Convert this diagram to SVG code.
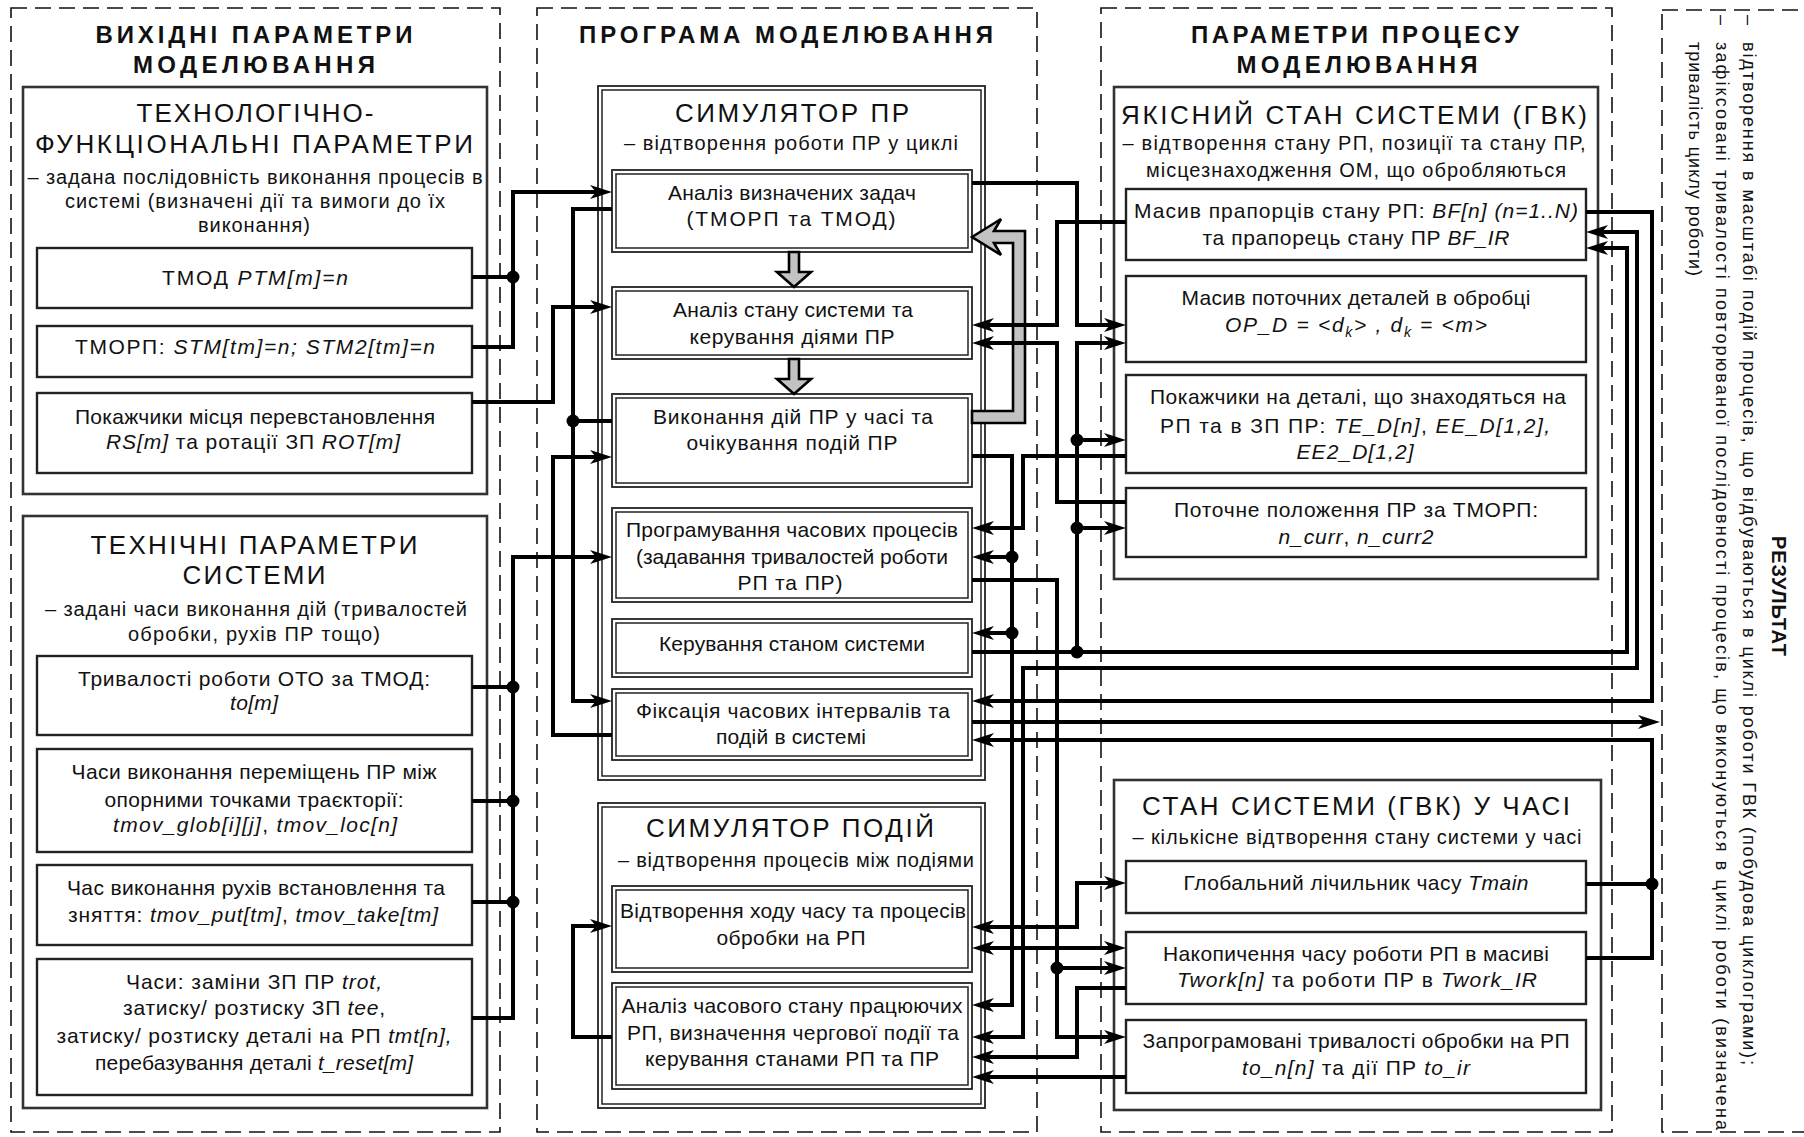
<svg xmlns="http://www.w3.org/2000/svg" width="1804" height="1137" viewBox="0 0 1804 1137">
<style>
.t{font-family:"Liberation Sans",Arial,sans-serif;fill:#111;text-anchor:middle;}
.h{font-size:24px;font-weight:bold;}
.bt{font-size:26px;}
.s{font-size:20px;}
.b{font-size:21px;}
.i{font-style:italic;}
.sub{font-size:14px;font-style:italic;}
.dash{fill:none;stroke:#111;stroke-width:1.6;stroke-dasharray:16 8;}
.bx{fill:#fff;stroke:#222;stroke-width:2.4;}
.ob{fill:#fff;stroke:#333;stroke-width:2.6;}
.d1{fill:#fff;stroke:#222;stroke-width:1.8;}
.d2{fill:none;stroke:#222;stroke-width:1.5;}
.c{fill:none;stroke:#000;stroke-width:4;stroke-linejoin:miter;}
.a{marker-end:url(#ar);}
.a2{marker-start:url(#ar);marker-end:url(#ar);}
.dot{fill:#000;}
.g{fill:#c2c2c2;stroke:#000;stroke-width:2.6;stroke-linejoin:miter;}
.r{font-family:"Liberation Sans",Arial,sans-serif;fill:#111;font-size:18px;}
</style>
<defs>
<marker id="ar" markerUnits="userSpaceOnUse" markerWidth="24" markerHeight="18" viewBox="0 0 24 18" refX="14" refY="9" orient="auto-start-reverse">
<path d="M0,2 L22,9 L0,16 L6,9 Z" fill="#000"/>
</marker>
</defs>
<rect width="1804" height="1137" fill="#fff"/>

<!-- panels -->
<g id="panel-left">
<rect class="dash" x="11" y="8" width="489" height="1124"/>
<text class="t h" x="254" y="43" textLength="317">ВИХІДНІ ПАРАМЕТРИ</text>
<text class="t h" x="254" y="73" textLength="242">МОДЕЛЮВАННЯ</text>
</g>
<g id="panel-mid">
<rect class="dash" x="537" y="8" width="500" height="1124"/>
<text class="t h" x="786" y="43" textLength="414">ПРОГРАМА МОДЕЛЮВАННЯ</text>
</g>
<g id="panel-right">
<rect class="dash" x="1101" y="8" width="511" height="1124"/>
<text class="t h" x="1355" y="43" textLength="328">ПАРАМЕТРИ ПРОЦЕСУ</text>
<text class="t h" x="1357" y="73" textLength="241">МОДЕЛЮВАННЯ</text>
</g>
<g id="panel-result">
<rect class="dash" x="1662" y="10" width="220" height="1122"/>
<g transform="translate(1772,536) rotate(90)"><text class="r" style="font-size:20px;font-weight:bold" x="0" y="0" textLength="120">РЕЗУЛЬТАТ</text></g>
<g transform="translate(1743,15) rotate(90)"><text class="r" x="0" y="0">–</text></g>
<g transform="translate(1743,42) rotate(90)"><text class="r" x="0" y="0" textLength="1023">відтворення в масштабі подій процесів, що відбуваються в циклі роботи ГВК (побудова циклограми);</text></g>
<g transform="translate(1716,15) rotate(90)"><text class="r" x="0" y="0">–</text></g>
<g transform="translate(1716,42) rotate(90)"><text class="r" x="0" y="0" textLength="1088">зафіксовані тривалості повторюваної послідовності процесів, що виконуються в циклі роботи (визначена</text></g>
<g transform="translate(1689,42) rotate(90)"><text class="r" x="0" y="0" textLength="234">тривалість циклу роботи)</text></g>
</g>

<!-- left column -->
<g id="tf-params">
<rect class="ob" x="23" y="87" width="464" height="407"/>
<text class="t bt" x="255" y="122" textLength="237">ТЕХНОЛОГІЧНО-</text>
<text class="t bt" x="254" y="153" textLength="438">ФУНКЦІОНАЛЬНІ ПАРАМЕТРИ</text>
<text class="t s" x="255" y="184" textLength="455">– задана послідовність виконання процесів в</text>
<text class="t s" x="255" y="208" textLength="380">системі (визначені дії та вимоги до їх</text>
<text class="t s" x="254" y="232" textLength="112">виконання)</text>
</g>
<g id="tmod">
<rect class="bx" x="37" y="248" width="435" height="60"/>
<text class="t b" x="255" y="285" textLength="186">ТМОД <tspan class="i">PTM[m]=n</tspan></text>
</g>
<g id="tmorp">
<rect class="bx" x="37" y="326" width="435" height="51"/>
<text class="t b" x="255" y="354" textLength="360">ТМОРП: <tspan class="i">STM[tm]=n; STM2[tm]=n</tspan></text>
</g>
<g id="rs-rot">
<rect class="bx" x="37" y="393" width="435" height="80"/>
<text class="t b" x="255" y="424" textLength="360">Покажчики місця перевстановлення</text>
<text class="t b" x="253" y="449" textLength="294"><tspan class="i">RS[m]</tspan> та ротації ЗП <tspan class="i">ROT[m]</tspan></text>
</g>

<g id="tech-params">
<rect class="ob" x="23" y="516" width="464" height="592"/>
<text class="t bt" x="254" y="554" textLength="327">ТЕХНІЧНІ ПАРАМЕТРИ</text>
<text class="t bt" x="254" y="584" textLength="143">СИСТЕМИ</text>
<text class="t s" x="256" y="616" textLength="422">– задані часи виконання дій (тривалостей</text>
<text class="t s" x="254" y="641" textLength="252">обробки, рухів ПР тощо)</text>
</g>
<g id="to-m">
<rect class="bx" x="37" y="656" width="435" height="79"/>
<text class="t b" x="254" y="686" textLength="352">Тривалості роботи ОТО за ТМОД:</text>
<text class="t b i" x="254" y="710" textLength="48">to[m]</text>
</g>
<g id="tmov">
<rect class="bx" x="37" y="749" width="435" height="103"/>
<text class="t b" x="254" y="779" textLength="365">Часи виконання переміщень ПР між</text>
<text class="t b" x="254" y="807" textLength="299">опорними точками траєкторії:</text>
<text class="t b" x="255" y="832" textLength="284"><tspan class="i">tmov_glob[i][j]</tspan>, <tspan class="i">tmov_loc[n]</tspan></text>
</g>
<g id="tmov-put">
<rect class="bx" x="37" y="865" width="435" height="80"/>
<text class="t b" x="256" y="895" textLength="378">Час виконання рухів встановлення та</text>
<text class="t b" x="253" y="922" textLength="370">зняття: <tspan class="i">tmov_put[tm]</tspan>, <tspan class="i">tmov_take[tm]</tspan></text>
</g>
<g id="times">
<rect class="bx" x="37" y="959" width="435" height="136"/>
<text class="t b" x="254" y="989" textLength="256">Часи: заміни ЗП ПР <tspan class="i">trot,</tspan></text>
<text class="t b" x="254" y="1015" textLength="262">затиску/ розтиску ЗП <tspan class="i">tee</tspan>,</text>
<text class="t b" x="254" y="1043" textLength="395">затиску/ розтиску деталі на РП <tspan class="i">tmt[n],</tspan></text>
<text class="t b" x="254" y="1070" textLength="318">перебазування деталі <tspan class="i">t_reset[m]</tspan></text>
</g>

<!-- middle column -->
<g id="sim-pr">
<rect class="d1" x="598" y="86" width="387" height="694"/>
<rect class="d2" x="602" y="90" width="379" height="686"/>
<text class="t bt" x="792" y="122" textLength="234">СИМУЛЯТОР ПР</text>
<text class="t s" x="791" y="150" textLength="334">– відтворення роботи ПР у циклі</text>
</g>
<g id="analiz-zadach">
<rect class="d1" x="612" y="170" width="360" height="82"/>
<rect class="d2" x="616" y="174" width="352" height="74"/>
<text class="t b" x="792" y="200" textLength="248">Аналіз визначених задач</text>
<text class="t b" x="791" y="226" textLength="209">(ТМОРП та ТМОД)</text>
</g>
<g id="analiz-stanu">
<rect class="d1" x="612" y="287" width="360" height="72"/>
<rect class="d2" x="616" y="291" width="352" height="64"/>
<text class="t b" x="793" y="317" textLength="240">Аналіз стану системи та</text>
<text class="t b" x="792" y="344" textLength="205">керування діями ПР</text>
</g>
<g id="vykonannia">
<rect class="d1" x="612" y="394" width="360" height="93"/>
<rect class="d2" x="616" y="398" width="352" height="85"/>
<text class="t b" x="793" y="424" textLength="280">Виконання дій ПР у часі та</text>
<text class="t b" x="792" y="450" textLength="211">очікування подій ПР</text>
</g>
<g id="prohramuvannia">
<rect class="d1" x="612" y="508" width="360" height="94"/>
<rect class="d2" x="616" y="512" width="352" height="86"/>
<text class="t b" x="792" y="537" textLength="332">Програмування часових процесів</text>
<text class="t b" x="792" y="564" textLength="312">(задавання тривалостей роботи</text>
<text class="t b" x="790" y="590" textLength="105">РП та ПР)</text>
</g>
<g id="keruvannia">
<rect class="d1" x="612" y="619" width="360" height="58"/>
<rect class="d2" x="616" y="623" width="352" height="50"/>
<text class="t b" x="792" y="651" textLength="266">Керування станом системи</text>
</g>
<g id="fiksatsiia">
<rect class="d1" x="612" y="689" width="360" height="71"/>
<rect class="d2" x="616" y="693" width="352" height="63"/>
<text class="t b" x="793" y="718" textLength="314">Фіксація часових інтервалів та</text>
<text class="t b" x="791" y="744" textLength="150">подій в системі</text>
</g>
<g id="sim-podii">
<rect class="d1" x="598" y="803" width="387" height="305"/>
<rect class="d2" x="602" y="807" width="379" height="297"/>
<text class="t bt" x="790" y="837" textLength="288">СИМУЛЯТОР ПОДІЙ</text>
<text class="t s" x="796" y="867" textLength="356">– відтворення процесів між подіями</text>
</g>
<g id="vidtvorennia">
<rect class="d1" x="612" y="886" width="360" height="86"/>
<rect class="d2" x="616" y="890" width="352" height="78"/>
<text class="t b" x="793" y="918" textLength="346">Відтворення ходу часу та процесів</text>
<text class="t b" x="791" y="945" textLength="149">обробки на РП</text>
</g>
<g id="analiz-chasu">
<rect class="d1" x="612" y="983" width="360" height="106"/>
<rect class="d2" x="616" y="987" width="352" height="98"/>
<text class="t b" x="792" y="1013" textLength="341">Аналіз часового стану працюючих</text>
<text class="t b" x="793" y="1040" textLength="332">РП, визначення чергової події та</text>
<text class="t b" x="792" y="1066" textLength="294">керування станами РП та ПР</text>
</g>

<!-- right column -->
<g id="yakisnyi">
<rect class="ob" x="1114" y="87" width="484" height="492"/>
<text class="t bt" x="1354" y="124" textLength="466">ЯКІСНИЙ СТАН СИСТЕМИ (ГВК)</text>
<text class="t s" x="1354" y="150" textLength="463">– відтворення стану РП, позиції та стану ПР,</text>
<text class="t s" x="1356" y="177" textLength="420">місцезнаходження ОМ, що обробляються</text>
</g>
<g id="bf">
<rect class="bx" x="1126" y="189" width="460" height="71"/>
<text class="t b" x="1356" y="218" textLength="444">Масив прапорців стану РП: <tspan class="i">BF[n] (n=1..N)</tspan></text>
<text class="t b" x="1356" y="245" textLength="307">та прапорець стану ПР <tspan class="i">BF_IR</tspan></text>
</g>
<g id="op-d">
<rect class="bx" x="1126" y="276" width="460" height="86"/>
<text class="t b" x="1356" y="305" textLength="349">Масив поточних деталей в обробці</text>
<text class="t b i" x="1356" y="332" textLength="262">OP_D = &lt;d<tspan class="sub" dy="5">k</tspan><tspan dy="-5">&gt; , d</tspan><tspan class="sub" dy="5">k</tspan><tspan dy="-5"> = &lt;m&gt;</tspan></text>
</g>
<g id="te-d">
<rect class="bx" x="1126" y="375" width="460" height="98"/>
<text class="t b" x="1358" y="404" textLength="416">Покажчики на деталі, що знаходяться на</text>
<text class="t b" x="1355" y="433" textLength="390">РП та в ЗП ПР: <tspan class="i">TE_D[n]</tspan>, <tspan class="i">EE_D[1,2],</tspan></text>
<text class="t b i" x="1355" y="459" textLength="117">EE2_D[1,2]</text>
</g>
<g id="n-curr">
<rect class="bx" x="1126" y="488" width="460" height="69"/>
<text class="t b" x="1356" y="517" textLength="364">Поточне положення ПР за ТМОРП:</text>
<text class="t b" x="1356" y="544" textLength="155"><tspan class="i">n_curr</tspan>, <tspan class="i">n_curr2</tspan></text>
</g>
<g id="stan-chas">
<rect class="ob" x="1114" y="780" width="487" height="330"/>
<text class="t bt" x="1356" y="815" textLength="428">СТАН СИСТЕМИ (ГВК) У ЧАСІ</text>
<text class="t s" x="1357" y="844" textLength="449">– кількісне відтворення стану системи у часі</text>
</g>
<g id="tmain">
<rect class="bx" x="1126" y="861" width="460" height="52"/>
<text class="t b" x="1356" y="890" textLength="345">Глобальний лічильник часу <tspan class="i">Tmain</tspan></text>
</g>
<g id="twork">
<rect class="bx" x="1126" y="932" width="460" height="72"/>
<text class="t b" x="1356" y="961" textLength="386">Накопичення часу роботи РП в масиві</text>
<text class="t b" x="1357" y="987" textLength="360"><tspan class="i">Twork[n]</tspan> та роботи ПР в <tspan class="i">Twork_IR</tspan></text>
</g>
<g id="to-n">
<rect class="bx" x="1126" y="1020" width="460" height="73"/>
<text class="t b" x="1356" y="1048" textLength="427">Запрограмовані тривалості обробки на РП</text>
<text class="t b" x="1356" y="1075" textLength="228"><tspan class="i">to_n[n]</tspan> та дії ПР <tspan class="i">to_ir</tspan></text>
</g>

<!-- connectors -->
<g id="connectors">
<polygon class="g" points="789,252 799,252 799,272 811,272 794,287 777,272 789,272"/>
<polygon class="g" points="789,359 799,359 799,379 811,379 794,394 777,379 789,379"/>
<polygon class="g" points="972,237 1001,219 994,231 1025,231 1025,423 972,423 972,411 1013,411 1013,243 994,243 1001,255"/>

<path class="c" d="M472,277 H513"/>
<path class="c a" d="M472,347 H513 V192 H604"/>
<path class="c a" d="M472,402 H553 V307 H604"/>
<path class="c a" d="M472,1018 H513 V557 H604"/>
<path class="c" d="M472,687 H513 M472,801 H513 M472,902 H513"/>

<path class="c a" d="M612,209 H573 V701 H604"/>
<path class="c" d="M612,421 H573"/>
<path class="c a" d="M612,735 H553 V457 H604"/>
<path class="c a" d="M612,1037 H573 V926 H604"/>

<path class="c a" d="M972,183 H1077 V325 H1118"/>
<path class="c a" d="M1126,222 H1057 V325 H980"/>
<path class="c a" d="M1126,502 H1057 V343 H980"/>
<path class="c a" d="M972,652 H1627 V248 H1594"/>
<path class="c a" d="M1077,652 V343 H1118"/>
<path class="c a" d="M1077,440 H1118"/>
<path class="c a" d="M1077,528 H1118"/>
<path class="c a" d="M972,456 H1012 V1005 H980"/>
<path class="c a" d="M1012,557 H980"/>
<path class="c a" d="M1012,633 H980"/>
<path class="c a" d="M1126,456 H1023 V528 H980"/>
<path class="c a" d="M972,580 H1057 V1037 H1118"/>
<path class="c a" d="M1057,968 H1118"/>
<path class="c a2" d="M1594,232 H1637 V668 H1023 V1037 H980"/>
<path class="c a" d="M1586,212 H1652 V701 H980"/>
<path class="c a" d="M972,722 H1652"/>
<path class="c a" d="M1586,958 H1652 V740 H980"/>
<path class="c" d="M1586,884 H1652"/>
<path class="c a2" d="M980,927 H1077 V883 H1118"/>
<path class="c a2" d="M980,948 H1118"/>
<path class="c a" d="M1126,988 H1077 V1057 H980"/>
<path class="c a" d="M1126,1077 H980"/>

<circle class="dot" cx="513" cy="277" r="6.5"/>
<circle class="dot" cx="513" cy="687" r="6.5"/>
<circle class="dot" cx="513" cy="801" r="6.5"/>
<circle class="dot" cx="513" cy="902" r="6.5"/>
<circle class="dot" cx="573" cy="421" r="6.5"/>
<circle class="dot" cx="1077" cy="652" r="6.5"/>
<circle class="dot" cx="1077" cy="440" r="6.5"/>
<circle class="dot" cx="1077" cy="528" r="6.5"/>
<circle class="dot" cx="1012" cy="557" r="6.5"/>
<circle class="dot" cx="1012" cy="633" r="6.5"/>
<circle class="dot" cx="1057" cy="968" r="6.5"/>
<circle class="dot" cx="1652" cy="884" r="6.5"/>
</g>
</svg>
